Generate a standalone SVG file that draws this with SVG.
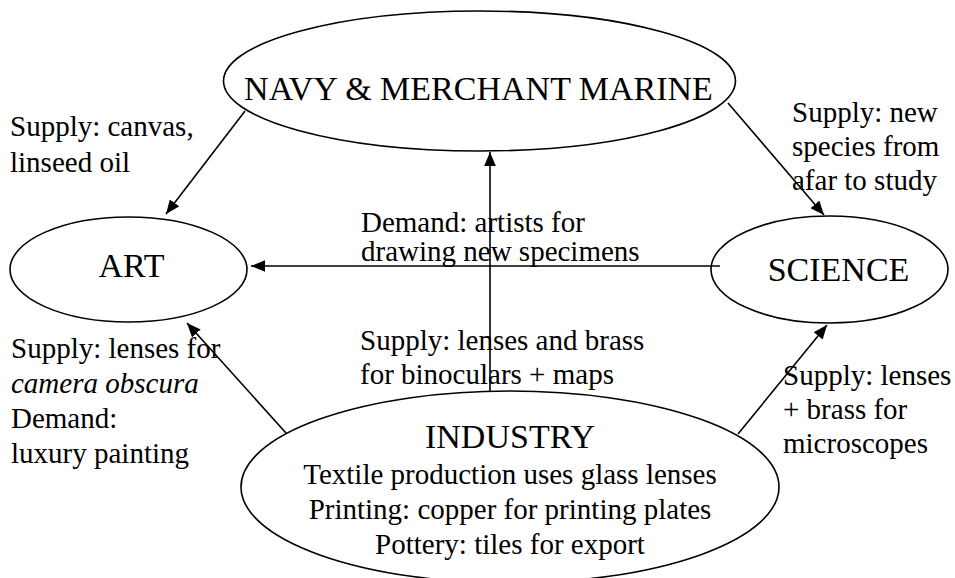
<svg xmlns="http://www.w3.org/2000/svg" width="955" height="578" viewBox="0 0 955 578">
<style>
text{fill:#000}
.big{font-size:34px}
.lbl{font-size:29px}
.node ellipse{fill:#fff;stroke:#000;stroke-width:1.6}
.conn line{stroke:#000;stroke-width:1.6;fill:none}
</style>
<defs>
<marker id="ah" markerUnits="userSpaceOnUse" markerWidth="14" markerHeight="12" refX="12" refY="5" orient="auto" viewBox="0 0 12 10">
<path d="M0,0 L12,5 L0,10 Z" fill="#000"/>
</marker>
</defs>
<rect width="955" height="578" fill="#fff"/>
<g font-family="'Liberation Serif', 'Times New Roman', 'DejaVu Serif', serif">
<g id="navy" class="node">
<ellipse cx="479.5" cy="81" rx="256" ry="70"/>
<text class="big" x="478.5" y="100" text-anchor="middle">NAVY &amp; MERCHANT MARINE</text>
</g>
<g id="art" class="node">
<ellipse cx="128.5" cy="269.5" rx="118.5" ry="52.5"/>
<text class="big" x="131.5" y="277" text-anchor="middle">ART</text>
</g>
<g id="science" class="node">
<ellipse cx="829.5" cy="269.5" rx="118.5" ry="53.5"/>
<text class="big" x="838.5" y="281" text-anchor="middle">SCIENCE</text>
</g>
<g id="industry" class="node">
<ellipse cx="510" cy="487" rx="269" ry="96"/>
<text class="big" x="510" y="448" text-anchor="middle">INDUSTRY</text>
<text class="lbl" x="510" y="484" text-anchor="middle">Textile production uses glass lenses</text>
<text class="lbl" x="510" y="519" text-anchor="middle">Printing: copper for printing plates</text>
<text class="lbl" x="510" y="554" text-anchor="middle">Pottery: tiles for export</text>
</g>
<g id="connectors" class="conn">
<line x1="245" y1="111" x2="166" y2="214" marker-end="url(#ah)"/>
<line x1="728" y1="103" x2="824" y2="215" marker-end="url(#ah)"/>
<line x1="720" y1="266" x2="251" y2="266" marker-end="url(#ah)"/>
<line x1="490" y1="391" x2="490" y2="152" marker-end="url(#ah)"/>
<line x1="286" y1="433" x2="187" y2="323" marker-end="url(#ah)"/>
<line x1="738" y1="434" x2="827" y2="325" marker-end="url(#ah)"/>
</g>
<g id="labels">
<text class="lbl" x="10" y="136">Supply: canvas,</text>
<text class="lbl" x="10" y="172">linseed oil</text>
<text class="lbl" x="792" y="122">Supply: new</text>
<text class="lbl" x="792" y="156">species from</text>
<text class="lbl" x="792" y="190">afar to study</text>
<text class="lbl" x="361" y="232">Demand: artists for</text>
<text class="lbl" x="361" y="261">drawing new specimens</text>
<text class="lbl" x="360" y="350">Supply: lenses and brass</text>
<text class="lbl" x="360" y="384">for binoculars + maps</text>
<text class="lbl" x="11" y="358">Supply: lenses for</text>
<text class="lbl" x="11" y="393" font-style="italic">camera obscura</text>
<text class="lbl" x="11" y="428">Demand:</text>
<text class="lbl" x="11" y="463">luxury painting</text>
<text class="lbl" x="783" y="385">Supply: lenses</text>
<text class="lbl" x="783" y="419">+ brass for</text>
<text class="lbl" x="783" y="453">microscopes</text>
</g>
</g>
</svg>
